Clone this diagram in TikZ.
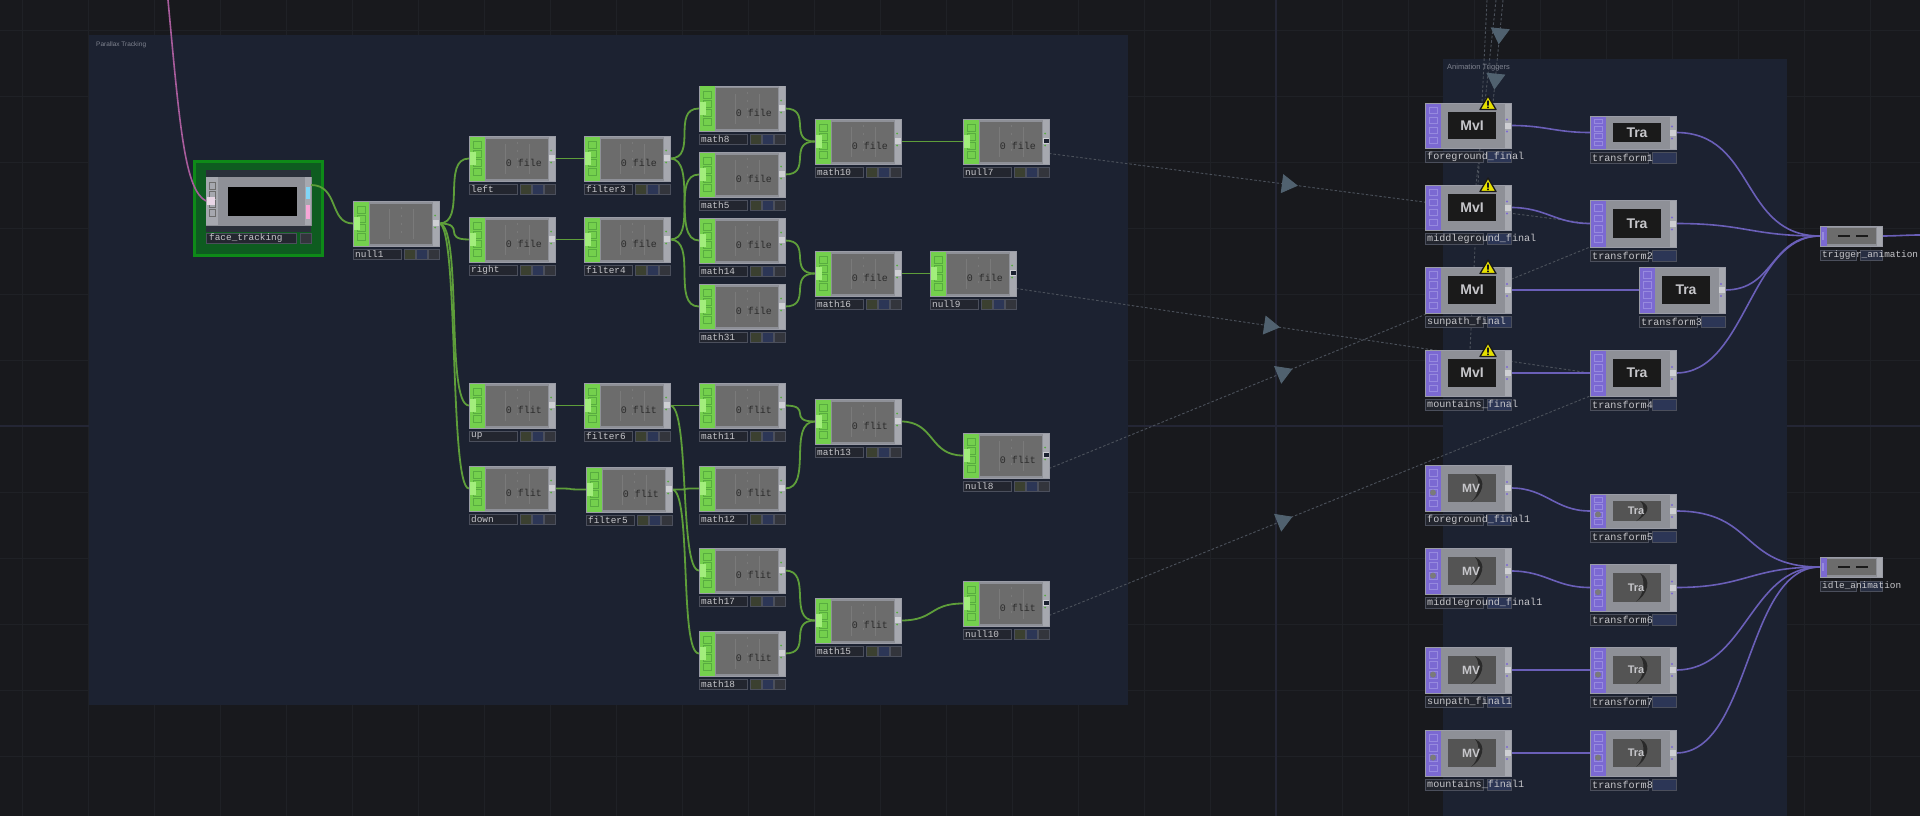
\documentclass[tikz,border=0pt]{standalone}
\usepackage{fontspec}
\setmainfont{Liberation Sans}
\setmonofont{Liberation Mono}
\usetikzlibrary{calc,arrows.meta,decorations.markings}
\definecolor{bgc}{HTML}{18191D}
\definecolor{gridc}{HTML}{1F2126}
\definecolor{gridd}{HTML}{242635}
\definecolor{panelc}{HTML}{1C2231}
\definecolor{paneltxt}{HTML}{7F838F}
\definecolor{frame}{HTML}{8E9097}
\definecolor{edge}{HTML}{9A9CA6}
\definecolor{viewc}{HTML}{6C6C6C}
\definecolor{faint}{HTML}{7A7A7A}
\definecolor{side}{HTML}{A6A8AF}
\definecolor{chopc}{HTML}{74D04D}
\definecolor{chopd}{HTML}{58AC40}
\definecolor{chophi}{HTML}{A2EE7C}
\definecolor{topc}{HTML}{7B69D2}
\definecolor{topd}{HTML}{978ADF}
\definecolor{wireg}{HTML}{5E9E3A}
\definecolor{wirep}{HTML}{6A5FB8}
\definecolor{wirek}{HTML}{A85C9C}
\definecolor{dashc}{HTML}{4C525C}
\definecolor{arrowc}{HTML}{50616F}
\definecolor{lblbox}{HTML}{4B4F5C}
\definecolor{lblfill}{HTML}{23262F}
\definecolor{flaga}{HTML}{3B4030}
\definecolor{flagb}{HTML}{2C3656}
\definecolor{flagc}{HTML}{33353C}
\definecolor{txtl}{HTML}{C6C6CA}
\definecolor{txtd}{HTML}{2C2C2C}
\definecolor{blackv}{HTML}{1A1A1A}
\definecolor{idlev}{HTML}{545454}
\definecolor{cresc}{HTML}{2A2A2A}
\definecolor{warnc}{HTML}{E6E000}
\definecolor{faceo}{HTML}{0E8A18}
\definecolor{facei}{HTML}{0E5C20}
\definecolor{faced}{HTML}{2A303A}
\pgfdeclarelayer{backg}
\pgfdeclarelayer{wires}
\pgfsetlayers{backg,wires,main}
\tikzset{
 opframe/.style={rectangle,draw=edge,fill=frame,line width=.8pt,inner sep=0pt,outer sep=0pt,anchor=north west},
 lblbase/.style={draw=lblbox,line width=.8pt},
 lbltext/.style={inner sep=0pt,anchor=west,text=txtl,font=\fontsize{9.4}{10}\selectfont\ttfamily},
 lbltextw/.style={inner sep=0pt,anchor=west,text=txtl,font=\fontsize{10.1}{10}\selectfont\ttfamily},
 viewtext/.style={inner sep=0pt,text=txtd,font=\fontsize{10}{10}\selectfont\ttfamily},
 bigtext/.style={inner sep=0pt,text=txtl,font=\fontsize{#1}{#1}\selectfont\bfseries},
 wireG/.style={draw=wireg,line width=1.8pt},
 wireP/.style={draw=wirep,line width=1.6pt},
 linkd/.style={draw=dashc,line width=.9pt,dash pattern=on 2.5pt off 2pt},
 midarrow/.style={postaction={decorate},decoration={markings,mark=at position #1 with {\arrow{Triangle[length=16pt,width=19pt,color=arrowc]}}}},
 twoarrows/.style 2 args={postaction={decorate},decoration={markings,
   mark=at position #1 with {\arrow{Triangle[length=16pt,width=19pt,color=arrowc]}},
   mark=at position #2 with {\arrow{Triangle[length=16pt,width=19pt,color=arrowc]}}}},
}
\newcommand{\lblrow}[4]{% name, label, y-offset, green style
 \draw[lblbase,fill=lblfill] (0,#3) rectangle (48,#3+10);
 \draw[lblbase,fill=flaga] (51,#3) rectangle (62,#3+10);
 \draw[lblbase,fill=flagb] (63,#3) rectangle (74,#3+10);
 \draw[lblbase,fill=flagc] (75,#3) rectangle (86,#3+10);
 \node[lbltext] (#1-l) at (2,#3+5) {#2};
}
\newcommand{\chopnode}[5]{% name x y label viewtext
\begin{scope}[shift={(#2,#3)}]
 \node[opframe,minimum width=86pt,minimum height=45pt] (#1) at (0,0) {};
 \fill[viewc] (17,2.5) rectangle (79,42.5);
 \fill[chopc] (.5,.5) rectangle (16,44.5);
 \foreach \gy in {5,14,23,32}{\draw[chopd,line width=1pt] (4,\gy) rectangle (12,\gy+7);}
 \fill[chophi] (1,16) rectangle (7,29);
 \draw[faint,line width=.7pt] (36,8)--(36,38) (60,8)--(60,38);
 \draw[faint,line width=.9pt,dash pattern=on 2pt off 6pt] (48,6)--(48,36);
 \fill[side] (80,.5) rectangle (85.5,44.5);
 \fill[chopd] (82,14.5) circle (1) (82,26.5) circle (1);
 \fill[white!45!side] (80,19) rectangle (85.5,25);
 \node[viewtext,anchor=east] (#1-v) at (73,27) {#5};
 \lblrow{#1}{#4}{48}{}
\end{scope}}
\newcommand{\topbase}[7]{% name x y h label viewtext fill
\begin{scope}[shift={(#2,#3)}]
 \node[opframe,minimum width=86pt,minimum height=#4 pt] (#1) at (0,0) {};
 \fill[topc] (.5,.5) rectangle (16,#4-.5);
 \foreach \gf in {.1,.32,.54,.76}{\draw[topd,line width=.9pt] (4,{#4*\gf}) rectangle (12,{#4*\gf+#4*.14});}
 \fill[side] (80,.5) rectangle (85.5,#4-.5);
 \fill[topc] (82,{#4/2-6}) circle (1.1) (82,{#4/2+6}) circle (1.1);
 \fill[white!45!side] (80,{#4/2-3}) rectangle (85.5,{#4/2+3});
 \fill[#7] (23,{#4*.2}) rectangle (71,{#4*.8});
 \draw[lblbase,fill=lblfill] (0,#4+3) rectangle (58,#4+14);
 \draw[lblbase,fill=flagb] (62,#4+3) rectangle (86,#4+14);
 \node[lbltextw] (#1-l) at (2,#4+8.5) {#5};
\end{scope}}
\newcommand{\movact}[5]{\topbase{#1}{#2}{#3}{#4}{#5}{}{blackv}
 \node[bigtext=14] (#1-v) at ($(#1.north west)+(47,{#4/2})$) {MvI};}
\newcommand{\traact}[5]{\topbase{#1}{#2}{#3}{#4}{#5}{}{blackv}
 \node[bigtext=14] (#1-v) at ($(#1.north west)+(47,{#4/2})$) {Tra};}
\newcommand{\crescent}[2]{\fill[cresc] ($(#1.north west)+(50,{#2/2-#2*.3})$) .. controls +(13,5) and +(11,-6) .. ($(#1.north west)+(46,{#2/2+#2*.3})$) .. controls +(8,-6) and +(6,6) .. cycle;}
\newcommand{\movidl}[5]{\topbase{#1}{#2}{#3}{#4}{#5}{}{idlev}\crescent{#1}{#4}
 \fill[faint] ($(#1.north west)+(8,{#4*.6})$) circle (3);
 \node[bigtext=12] (#1-v) at ($(#1.north west)+(46,{#4/2})$) {MV};}
\newcommand{\traidl}[5]{\topbase{#1}{#2}{#3}{#4}{#5}{}{idlev}\crescent{#1}{#4}
 \fill[faint] ($(#1.north west)+(8,{#4*.6})$) circle (3);
 \node[bigtext=11] (#1-v) at ($(#1.north west)+(46,{#4/2})$) {Tra};}
\newcommand{\switchnode}[4]{% name x y label
\begin{scope}[shift={(#2,#3)}]
 \node[opframe,minimum width=62pt,minimum height=20pt] (#1) at (0,0) {};
 \fill[viewc] (7,2) rectangle (56,18);
 \fill[topc] (.5,.5) rectangle (7,19.5);
 \fill[topd] (1.5,6) rectangle (4,14);
 \fill[side] (57,.5) rectangle (61.5,19.5);
 \draw[blackv,line width=1.6pt] (18,10)--(30,10) (36,10)--(48,10);
 \draw[lblbase,fill=lblfill] (0,24) rectangle (36,34);
 \draw[lblbase,fill=flagb!50!lblfill] (40,24) rectangle (62,34);
 \node[lbltext] (#1-l) at (2,29) {#4};
\end{scope}}
\newcommand{\notch}[1]{\fill[panelc] ($(#1.east)+(-5,-3)$) rectangle ($(#1.east)+(0,1)$);}
\newcommand{\warnsign}[1]{%
\begin{scope}[shift={($(#1.north west)+(63,1)$)}]
 \fill[warnc,draw=blackv,line width=1.3pt,line join=round] (0,-8) -- (8,5.5) -- (-8,5.5) -- cycle;
 \fill[blackv] (-.9,-3.5) rectangle (.9,1.5) (-.9,2.5) rectangle (.9,4.2);
\end{scope}}
\newcommand{\gw}[3][28]{\draw[wireG] (#2.east) .. controls +(#1,0) and +(-#1,0) .. (#3.west);}
\newcommand{\pw}[3][28]{\draw[wireP] (#2.east) .. controls +(#1,0) and +(-#1,0) .. (#3.west);}
\begin{document}
\begin{tikzpicture}[x=1pt,y=-1pt]
\useasboundingbox (0,0) rectangle (1920,816);
\clip (0,0) rectangle (1920,816);
\begin{pgfonlayer}{backg}
 \fill[bgc] (0,0) rectangle (1920,816);
 \foreach \gx in {22,88,...,1900}{\draw[gridc,line width=.8pt] (\gx,0)--(\gx,816);}
 \foreach \gy in {30,96,...,800}{\draw[gridc,line width=.8pt] (0,\gy)--(1920,\gy);}
 \draw[gridd,line width=1.2pt] (1276,0)--(1276,816) (0,426)--(1920,426);
 \fill[panelc] (89,35) rectangle (1128,705);
 \fill[panelc] (1443,59) rectangle (1787,816);
\end{pgfonlayer}
\node[inner sep=0pt,anchor=west,text=paneltxt,font=\fontsize{6.5}{7}\selectfont] (paneltitleA) at (96,45) {Parallax Tracking};
\node[inner sep=0pt,anchor=west,text=paneltxt,font=\fontsize{7.5}{8}\selectfont] (paneltitleB) at (1447,68) {Animation Triggers};

% face_tracking
\draw[faceo,fill=facei,line width=3pt] (194.5,161.5) rectangle (322,255);
\fill[faced] (206,170) rectangle (311,232);
\begin{scope}[shift={(206,177)}]
 \node[opframe,draw=frame,fill=frame,minimum width=105pt,minimum height=48pt] (face) at (0,0) {};
 \fill[side] (0,0) rectangle (12,48);
 \foreach \gy in {5,14,23,32}{\draw[viewc,line width=.8pt] (3,\gy) rectangle (9,\gy+7);}
 \fill[white!75!wirek] (1,20) rectangle (9,28);
 \fill[side] (99,0) rectangle (105,48);
 \fill[cyan!50!white] (100,10) rectangle (104,22);
 \fill[magenta!35!white] (100,28) rectangle (104,42);
 \fill[black] (22,10) rectangle (91,39);
 \draw[lblbase,fill=lblfill] (0,56) rectangle (90,66);
 \draw[lblbase,fill=flagc] (94,56) rectangle (105,66);
 \node[lbltext] (face-l) at (3,61) {face\_tracking};
\end{scope}

\chopnode{nullA}{353}{201}{null1}{}
\chopnode{left}{469}{136}{left}{0 file}
\chopnode{right}{469}{217}{right}{0 file}
\chopnode{up}{469}{383}{up}{0 flit}
\chopnode{down}{469}{466}{down}{0 flit}
\chopnode{filtC}{584}{136}{filter3}{0 file}
\chopnode{filtD}{584}{217}{filter4}{0 file}
\chopnode{filtF}{584}{383}{filter6}{0 flit}
\chopnode{filtE}{586}{467}{filter5}{0 flit}
\chopnode{mathH}{699}{86}{math8}{0 file}
\chopnode{mathE}{699}{152}{math5}{0 file}
\chopnode{mathN}{699}{218}{math14}{0 file}
\chopnode{mathS}{699}{284}{math31}{0 file}
\chopnode{mathJ}{815}{119}{math10}{0 file}
\chopnode{mathP}{815}{251}{math16}{0 file}
\chopnode{nullG}{963}{119}{null7}{0 file}
\chopnode{nullI}{930}{251}{null9}{0 file}
\chopnode{mathK}{699}{383}{math11}{0 flit}
\chopnode{mathL}{699}{466}{math12}{0 flit}
\chopnode{mathQ}{699}{548}{math17}{0 flit}
\chopnode{mathR}{699}{631}{math18}{0 flit}
\chopnode{mathM}{815}{399}{math13}{0 flit}
\chopnode{mathO}{815}{598}{math15}{0 flit}
\chopnode{nullH}{963}{433}{null8}{0 flit}
\chopnode{nullJ}{963}{581}{null10}{0 flit}
\notch{nullG}\notch{nullI}\notch{nullH}\notch{nullJ}

\movact{movA}{1425}{103}{45}{foreground\_final}
\movact{movB}{1425}{185}{45}{middleground\_final}
\movact{movC}{1425}{267}{46}{sunpath\_final}
\movact{movD}{1425}{350}{46}{mountains\_final}
\traact{trA}{1590}{116}{33}{transform1}
\traact{trB}{1590}{200}{47}{transform2}
\traact{trC}{1639}{267}{46}{transform3}
\traact{trD}{1590}{350}{46}{transform4}
\movidl{movE}{1425}{465}{46}{foreground\_final1}
\movidl{movF}{1425}{548}{46}{middleground\_final1}
\movidl{movG}{1425}{647}{46}{sunpath\_final1}
\movidl{movH}{1425}{730}{46}{mountains\_final1}
\traidl{trE}{1590}{494}{34}{transform5}
\traidl{trF}{1590}{564}{47}{transform6}
\traidl{trG}{1590}{647}{46}{transform7}
\traidl{trH}{1590}{730}{46}{transform8}
\switchnode{trig}{1820}{226}{trigger\_animation}
\switchnode{idle}{1820}{557}{idle\_animation}
\warnsign{movA}\warnsign{movB}\warnsign{movC}\warnsign{movD}

\coordinate (pinkstart) at (168,0);
\coordinate (trigout) at (1920,235);
\coordinate (topA) at (1487,0);
\coordinate (topB) at (1496,0);
\coordinate (topC) at (1503,0);

% these two cross the green frame of face_tracking
\draw[wirek,line width=1.6pt] (pinkstart) .. controls (180,130) and (185,190) .. (face.west);
\draw[wireG] ([yshift=16pt]face.east) .. controls +(28,0) and +(-24,0) .. (nullA.west);

\begin{pgfonlayer}{wires}
 % exports
 \draw[linkd,midarrow=.46] ([yshift=-12pt]nullG.east) -- (trB.west);
 \draw[linkd,midarrow=.46] ([yshift=-15pt]nullI.east) -- (trD.west);
 \draw[linkd,midarrow=.45] ([yshift=-13pt]nullH.east) -- (trB.south west);
 \draw[linkd,midarrow=.45] ([yshift=-12pt]nullJ.east) -- (trD.south west);
 \draw[linkd] (topA) -- ([xshift=2pt]movD.north);
 \draw[linkd] (topB) -- ([xshift=8pt]movB.north);
 \draw[linkd,twoarrows={.43}{.87}] (topC) -- ([xshift=25pt]movA.north);
 % green
 \gw{nullA}{left}\gw{nullA}{right}\gw[24]{nullA}{up}\gw[20]{nullA}{down}
 \gw{left}{filtC}\gw{right}{filtD}\gw{up}{filtF}\gw{down}{filtE}
 \gw{filtC}{mathH}\gw{filtC}{mathN}\gw{filtD}{mathE}\gw{filtD}{mathS}
 \gw{filtF}{mathK}\gw[20]{filtF}{mathQ}\gw{filtE}{mathL}\gw[20]{filtE}{mathR}
 \gw{mathH}{mathJ}\gw{mathE}{mathJ}\gw{mathN}{mathP}\gw{mathS}{mathP}
 \gw{mathJ}{nullG}\gw{mathP}{nullI}
 \gw{mathK}{mathM}\gw{mathL}{mathM}\gw{mathQ}{mathO}\gw{mathR}{mathO}
 \gw[34]{mathM}{nullH}\gw[34]{mathO}{nullJ}
 % purple
 \pw[35]{movA}{trA}\pw[35]{movB}{trB}\pw[60]{movC}{trC}\pw[35]{movD}{trD}
 \pw[35]{movE}{trE}\pw[35]{movF}{trF}\pw[35]{movG}{trG}\pw[35]{movH}{trH}
 \pw[80]{trA}{trig}\pw[70]{trB}{trig}\pw[50]{trC}{trig}\pw[70]{trD}{trig}
 \pw[80]{trE}{idle}\pw[70]{trF}{idle}\pw[70]{trG}{idle}\pw[75]{trH}{idle}
 \draw[wireP] (trig.east) .. controls +(14,0) and +(-14,0) .. (trigout);
\end{pgfonlayer}
\end{tikzpicture}
\end{document}
